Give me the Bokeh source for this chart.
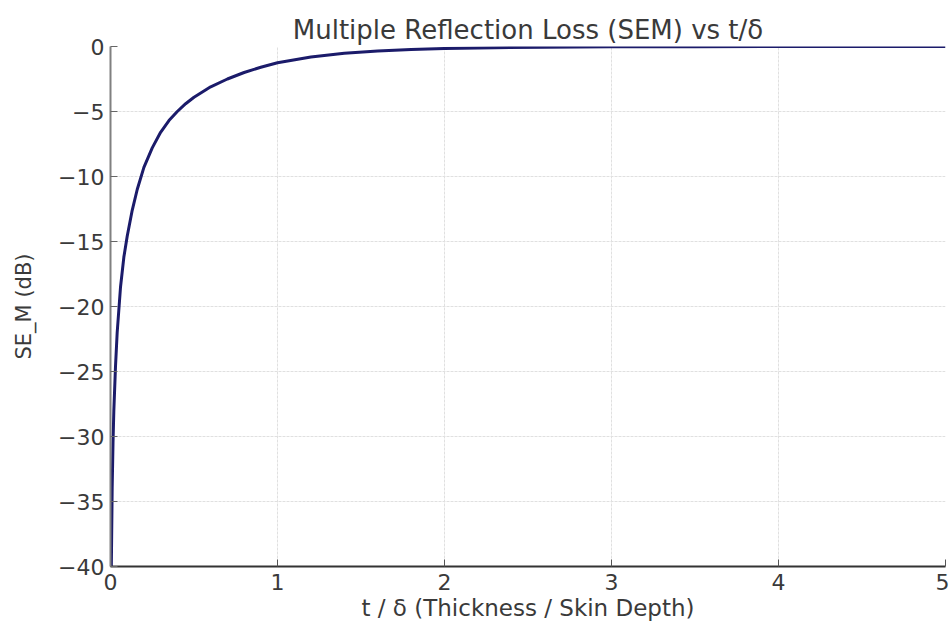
from bokeh.plotting import figure
from bokeh.models import Range1d, FixedTicker
from bokeh.embed import file_html
from bokeh.resources import INLINE

# Data
t_ratio = [0.005, 0.01, 0.015, 0.02, 0.03, 0.04, 0.06, 0.08, 0.10, 0.13, 0.16, 0.20,
           0.25, 0.30, 0.35, 0.40, 0.45, 0.50, 0.60, 0.70, 0.80, 0.90, 1.00, 1.20,
           1.40, 1.60, 1.80, 2.00, 2.30, 2.60, 3.00, 3.50, 4.00, 4.50, 5.00]
se_m_db = [-40.0, -34.0, -30.5, -28.0, -24.6, -22.0, -18.5, -16.2, -14.6, -12.6, -11.0, -9.3,
           -7.8, -6.6, -5.7, -5.0, -4.4, -3.9, -3.1, -2.5, -2.0, -1.6, -1.25, -0.8,
           -0.52, -0.35, -0.24, -0.16, -0.09, -0.05, -0.02, -0.01, -0.003, -0.001, 0.0]

x_ticks = [0, 1, 2, 3, 4, 5]
y_ticks = [-40, -35, -30, -25, -20, -15, -10, -5, 0]

FONT = "DejaVu Sans"
TXT = "#3a3a3a"

p = figure(width=949, height=625, output_backend="svg", toolbar_location=None,
           x_range=Range1d(0, 5), y_range=Range1d(-40, 0),
           title="Multiple Reflection Loss (SEM) vs t/δ",
           min_border_left=110, min_border_right=4, min_border_top=46, min_border_bottom=59)

p.outline_line_color = None
p.background_fill_color = "white"
p.border_fill_color = "white"

p.title.align = "center"
p.title.text_font = FONT
p.title.text_font_size = "26px"
p.title.text_font_style = "normal"
p.title.text_color = TXT
p.title.offset = 0
p.title.standoff = 4

p.line(t_ratio, se_m_db, line_color="#1b1b6a", line_width=3)

for ax in (p.xaxis[0], p.yaxis[0]):
    ax.major_tick_in = 7
    ax.major_tick_out = 0
    ax.minor_tick_line_color = None
    ax.major_label_text_font = FONT
    ax.major_label_text_font_size = "22px"
    ax.major_label_text_color = TXT
    ax.axis_label_text_font = FONT
    ax.axis_label_text_font_style = "normal"
    ax.axis_label_text_color = TXT

p.xaxis.ticker = FixedTicker(ticks=x_ticks)
p.yaxis.ticker = FixedTicker(ticks=y_ticks)
p.xaxis.major_label_overrides = {v: str(v) for v in x_ticks}
p.yaxis.major_label_overrides = {v: (str(v).replace("-", "\u2212")) for v in y_ticks}

p.xaxis.axis_line_color = "#333333"
p.xaxis.axis_line_width = 2
p.xaxis.major_tick_line_color = "#555555"
p.yaxis.axis_line_color = "#808080"
p.yaxis.axis_line_width = 2
p.yaxis.major_tick_line_color = "#666666"

p.xaxis.major_label_standoff = 7
p.yaxis.major_label_standoff = 6

p.xaxis.axis_label = "t / δ (Thickness / Skin Depth)"
p.xaxis.axis_label_text_font_size = "23px"
p.xaxis.axis_label_standoff = 2
p.yaxis.axis_label = "SE_M (dB)"
p.yaxis.axis_label_text_font_size = "21px"
p.yaxis.axis_label_standoff = 19

p.xgrid.ticker = FixedTicker(ticks=x_ticks)
p.ygrid.ticker = FixedTicker(ticks=y_ticks)
p.grid.grid_line_color = "#e0e0e0"
p.grid.grid_line_dash = "3 1"
p.grid.grid_line_width = 1

open("out.html", "w").write(file_html(p, INLINE))
